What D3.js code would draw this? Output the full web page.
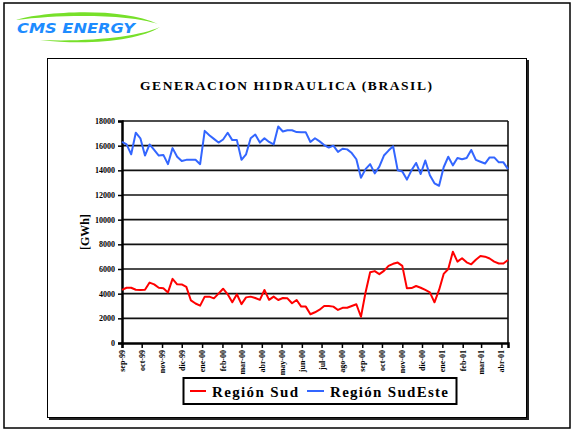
<!DOCTYPE html>
<html><head><meta charset="utf-8">
<script src="https://cdn.jsdelivr.net/npm/d3@7"></script>
<style>body{margin:0;background:#fff}svg{display:block}</style>
</head><body>
<svg id="c" width="574" height="432"></svg>
<script>
// ---- data (weekly, sep-1999 .. abr-2001) ----
const startDate = new Date(1999, 8, 1);
const sudEste = [16300,16100,15300,17050,16600,15200,16100,15650,15200,15250,
  14500,15800,15100,14750,14850,14850,14850,14500,17200,16850,
  16550,16250,16500,17050,16450,16450,14850,15300,16600,16900,
  16250,16600,16300,16100,17550,17150,17250,17250,17100,17080,
  17080,16300,16600,16350,16050,15850,16000,15500,15750,15700,
  15400,14900,13400,14100,14500,13750,14300,15200,15600,15950,
  14000,13900,13250,14000,14600,13700,14800,13600,12950,12750,
  14250,15100,14400,15000,14900,15000,15650,14850,14700,14550,
  15050,15050,14650,14650,14100];
const sud = [4300,4480,4480,4320,4300,4320,4900,4750,4480,4430,
  4100,5200,4760,4750,4550,3450,3200,3030,3760,3760,
  3620,4000,4400,3950,3300,3950,3150,3700,3760,3650,
  3500,4300,3500,3760,3490,3650,3620,3220,3490,2950,
  2950,2330,2490,2700,3000,3000,2950,2680,2850,2860,
  3000,3140,2130,4100,5730,5830,5580,5850,6250,6420,
  6520,6250,4430,4450,4620,4480,4300,4110,3300,4300,
  5600,6000,7400,6600,6870,6540,6380,6750,7050,7000,
  6850,6600,6450,6450,6730];
const monthLabels = ["sep-99","oct-99","nov-99","dic-99","ene-00","feb-00","mar-00","abr-00",
  "may-00","jun-00","jul-00","ago-00","sep-00","oct-00","nov-00","dic-00","ene-01","feb-01","mar-01","abr-01"];
const yTicks = [0,2000,4000,6000,8000,10000,12000,14000,16000,18000];
const seriesNames = ["Región Sud","Región SudEste"];
const seriesColors = ["#ff0000","#3366ff"];
const titleText = "GENERACION HIDRAULICA (BRASIL)";
const yLabel = "[GWh]";

const dates = sud.map((_, i) => d3.timeDay.offset(startDate, 7 * i));
const months = d3.timeMonth.range(new Date(1999, 8, 1), new Date(2001, 4, 1));

const svg = d3.select("#c");
const serif = "'Liberation Serif','Times New Roman',serif";

// page border
svg.append("rect").attr("x",4).attr("y",3).attr("width",566).attr("height",425)
  .attr("fill","none").attr("stroke","#000").attr("stroke-width",1.5);

// logo
const logo = svg.append("g");
logo.append("path").attr("d","M16,20 C40,12 120,6 158,24 C130,14 60,14 16,20 Z").attr("fill","#77e02a");
logo.append("path").attr("d","M40,40 C90,46 140,40 160,27 C140,36 95,42 40,40 Z").attr("fill","#77e02a");
logo.append("text").attr("x",17).attr("y",33).attr("font-family","'DejaVu Sans',sans-serif")
  .attr("font-style","italic").attr("font-weight","bold").attr("font-size",14)
  .attr("fill","#1e8cff").attr("textLength",118).attr("lengthAdjust","spacingAndGlyphs").text("CMS ENERGY");

// chart frame with shadow
svg.append("rect").attr("x",49).attr("y",60).attr("width",480).attr("height",360).attr("fill","#222");
svg.append("rect").attr("x",47.5).attr("y",58.5).attr("width",479).attr("height",359)
  .attr("fill","#fff").attr("stroke","#000").attr("stroke-width",1);

// title
svg.append("text").attr("x",286).attr("y",90).attr("text-anchor","middle")
  .attr("font-family",serif).attr("font-weight","bold").attr("font-size",13.5)
  .attr("textLength",292).attr("lengthAdjust","spacing").text(titleText);

const x = d3.scaleTime().domain([dates[0], dates[dates.length-1]]).range([122, 508]);
const y = d3.scaleLinear().domain([0, 18000]).range([343, 121]);

// gridlines
svg.append("g").selectAll("line").data(yTicks.slice(1)).join("line")
  .attr("x1",122).attr("x2",508).attr("y1",d=>y(d)).attr("y2",d=>y(d))
  .attr("stroke","#111").attr("stroke-width",1.6);
// right border
svg.append("line").attr("x1",508).attr("x2",508).attr("y1",y(18000)).attr("y2",y(0))
  .attr("stroke","#111").attr("stroke-width",1.6);

// y axis
const ya = svg.append("g").attr("transform","translate(122,0)")
  .call(d3.axisLeft(y).tickValues(yTicks).tickSize(4).tickPadding(3).tickFormat(d3.format("d")));
ya.select(".domain").attr("stroke-width",2.5);
ya.selectAll(".tick line").attr("stroke-width",1.5);
ya.selectAll("text").attr("font-family",serif).attr("font-weight","bold").attr("font-size",8).attr("fill","#000");

// x axis
const xa = svg.append("g").attr("transform","translate(0,343)")
  .call(d3.axisBottom(x).tickValues(months).tickSize(5).tickFormat((d,i)=>monthLabels[i]));
xa.select(".domain").attr("stroke-width",2.5);
xa.selectAll(".tick line").attr("stroke-width",1.5);
xa.selectAll("text").attr("font-family",serif).attr("font-weight","bold").attr("font-size",8).attr("fill","#000")
  .attr("transform","rotate(-90)").attr("text-anchor","end").attr("x",-7).attr("y",0).attr("dy","0.32em");

// y label
svg.append("text").attr("transform","translate(89,232) rotate(-90)").attr("text-anchor","middle")
  .attr("font-family",serif).attr("font-weight","bold").attr("font-size",12).text(yLabel);

// lines
const line = d3.line().x((d,i)=>x(dates[i])).y(d=>y(d));
[sud, sudEste].forEach((s, k) => {
  svg.append("path").datum(s).attr("d", line).attr("fill","none")
    .attr("stroke", seriesColors[k]).attr("stroke-width",2).attr("stroke-linejoin","round");
});

// legend
svg.append("rect").attr("x",183.5).attr("y",378).attr("width",273).attr("height",26)
  .attr("fill","#fff").attr("stroke","#000").attr("stroke-width",2);
const leg = [{x1:190,x2:206,tx:212,tl:86},{x1:307,x2:324,tx:330,tl:118}];
leg.forEach((l,k)=>{
  svg.append("line").attr("x1",l.x1).attr("x2",l.x2).attr("y1",391).attr("y2",391)
    .attr("stroke",seriesColors[k]).attr("stroke-width",2);
  svg.append("text").attr("x",l.tx).attr("y",396.5).attr("font-family",serif).attr("font-weight","bold")
    .attr("font-size",15).attr("textLength",l.tl).attr("lengthAdjust","spacing").text(seriesNames[k]);
});
</script>
</body></html>
